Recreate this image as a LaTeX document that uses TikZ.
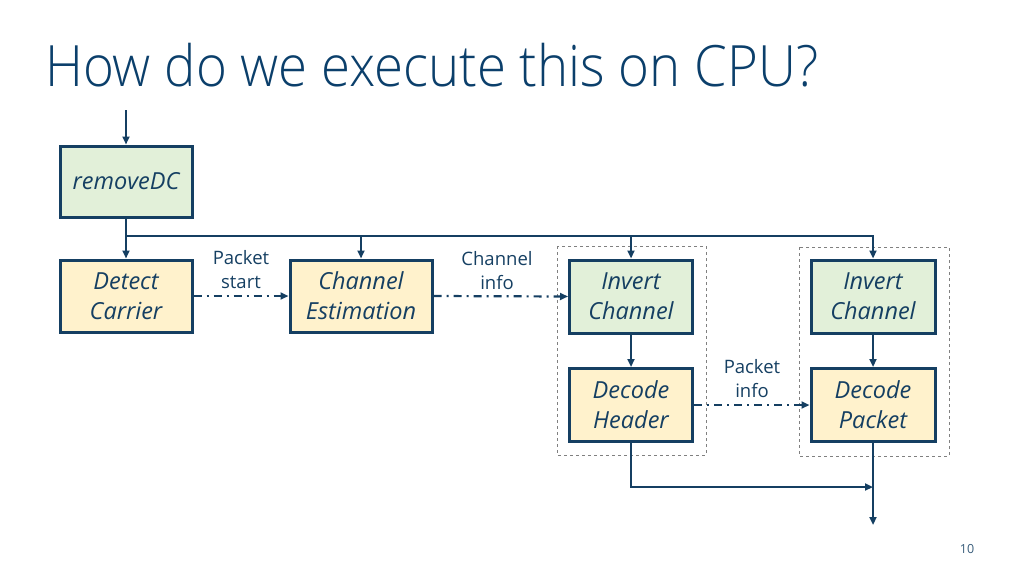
\documentclass[tikz,border=0pt]{standalone}
\usepackage{fontspec}
\setmainfont{Open Sans}
\newfontfamily\titlefont{Open Sans Light}
\usepackage{tikz}
\usetikzlibrary{arrows.meta,positioning}
\definecolor{ink}{HTML}{153F62}
\definecolor{headblue}{HTML}{0B3F6B}
\definecolor{mint}{HTML}{E2F0D9}
\definecolor{cream}{HTML}{FFF2CC}
\definecolor{slate}{HTML}{808080}

\begin{document}
\begin{tikzpicture}[x=1pt,y=-1pt,
  blk/.style={draw=ink,line width=3pt,inner sep=0pt,align=center,text=ink,
    font=\fontsize{23.5}{30}\selectfont\itshape},
  flow/.style={ink,line width=2.2pt,-{Triangle[length=8pt,width=7pt]}},
  msg/.style={ink,line width=2.2pt,dash pattern=on 8pt off 5pt on 2pt off 5pt,
    -{Triangle[length=8pt,width=7pt]}},
  grp/.style={draw=slate,dashed,line width=0.9pt},
  lbl/.style={text=ink,align=center,font=\fontsize{18.5}{24}\selectfont}]
  \useasboundingbox (0,0) rectangle (1024,576);
  \node[anchor=base west,inner sep=0pt,text=headblue,transform shape,xscale=0.925,
    font=\titlefont\fontsize{57}{60}\selectfont]
    (title) at (45,86) {How do we execute this on CPU?};
  % first stage
  \node[blk,fill=mint,minimum width=132pt,minimum height=71pt] (rdc) at (126,181.5) {removeDC};
  \node[blk,fill=cream,minimum width=132pt,minimum height=72pt] (dc) at (126,296) {Detect\\Carrier};
  \node[blk,fill=cream,minimum width=142pt,minimum height=72pt] (est) at (361,296) {Channel\\Estimation};
  % the two decode groups
  \draw[grp] (557,246) rectangle (706,455);
  \draw[grp] (799,247) rectangle (949,456);
  \node[blk,fill=mint,minimum width=123pt,minimum height=73pt] (inv1) at (631,296.5) {Invert\\Channel};
  \node[blk,fill=cream,minimum width=123pt,minimum height=73pt] (dh) at (631,405) {Decode\\Header};
  \node[blk,fill=mint,minimum width=124pt,minimum height=73pt] (inv2) at (873,296.5) {Invert\\Channel};
  \node[blk,fill=cream,minimum width=124pt,minimum height=73pt] (dp) at (873,405) {Decode\\Packet};
  \node[lbl] (pstart) at (241,270) {Packet\\start};
  \node[lbl] (cinfo) at (497,271) {Channel\\info};
  \node[lbl] (pinfo) at (752,379) {Packet\\info};
  \node[text=ink!85,font=\fontsize{12.5}{14}\selectfont] (pg) at (967,549) {10};
  % connectors
  \coordinate (in) at (126,110);
  \coordinate (bus) at (126,236);
  \coordinate (join) at (873,487);
  \coordinate (out) at (873,525);
  \draw[flow] (in) -- (rdc.north);
  \draw[flow] (rdc.south) -- (dc.north);
  \draw[flow] (rdc.south) -- (bus) -| (inv2.north);
  \draw[flow] (est.north |- bus) -- (est.north);
  \draw[flow] (inv1.north |- bus) -- (inv1.north);
  \draw[flow] (inv1.south) -- (dh.north);
  \draw[flow] (inv2.south) -- (dp.north);
  \draw[flow] (dh.south) |- (join);
  \draw[flow] (dp.south) -- (out);
  \draw[msg] (dc.east) -- (est.west);
  \draw[msg] (est.east) -- (inv1.west);
  \draw[msg] (dh.east) -- (dp.west);
\end{tikzpicture}
\end{document}
